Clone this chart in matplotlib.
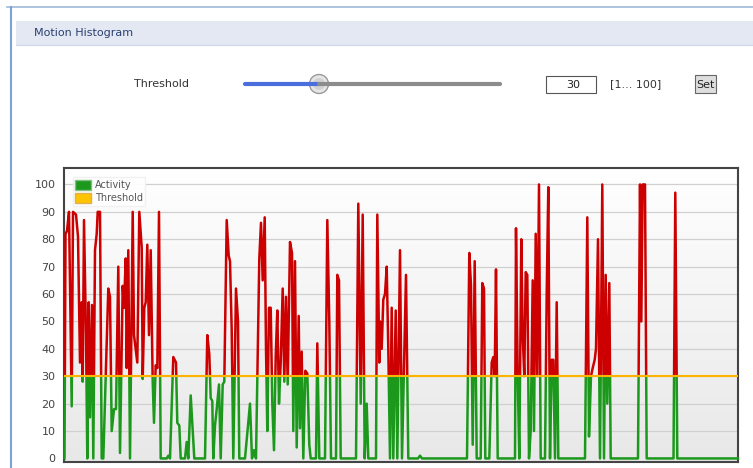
import numpy as np
import matplotlib
matplotlib.use("Agg")
import matplotlib.pyplot as plt
from matplotlib.patches import Rectangle, Circle, Patch

W, H = 753, 468

# motion activity samples (frame number, activity level)
frames = [
    0.5, 1.5, 3, 5, 7.7, 9, 12, 14, 16, 17.7, 18.7, 20, 22, 23.3, 24.7, 26, 28, 29.3,
    31, 32.7, 33.7, 36, 37.7, 39.3, 44.3, 46, 47.7, 50, 52, 54.3, 56, 58.7, 60, 61.7,
    62.7, 64.3, 66, 68.7, 70, 71.7, 73.3, 75.3, 77.7, 78.7, 80.3, 81.7, 83.3, 85, 86.7,
    88.7, 90, 91.7, 93.3, 95, 96.7, 102.7, 104.3, 106, 109.3, 112, 113.3, 115.3, 116.7,
    121, 122.7, 124.3, 126.7, 128.7, 130.3, 141, 143.3, 145.3, 146.7, 148.3, 149.3, 151,
    152.7, 155, 156.7, 158.7, 160.3, 162.7, 164.7, 166, 167.7, 169.3, 172, 174, 175.3,
    181, 186, 188, 190, 192, 195.3, 197, 198.7, 200.7, 202, 203.3, 205, 206.7, 208.3,
    210, 211.7, 213.3, 215, 216.7, 218.7, 220.3, 222, 223.7, 226, 228, 229.3, 231,
    232.7, 234.7, 236, 237.7, 239.3, 241.3, 243.3, 245.3, 246.7, 252, 253.3, 255.3, 261,
    263.3, 265.3, 267, 272, 273.3, 275, 276.7, 292, 294.3, 296.7, 298.7, 300.7, 302.7,
    304.3, 312, 313.3, 315.3, 316, 317.7, 319.3, 321, 322.7, 324.3, 326, 327.7, 329.3,
    331.7, 333.3, 336, 338, 342, 344.3, 354, 356, 358, 403, 405.3, 407, 408.7, 410.7,
    412.7, 416.7, 418.3, 420, 421.3, 425.3, 427.7, 429.3, 430.7, 432, 433.7, 451, 452,
    453.7, 455.3, 457.3, 458.7, 460.3, 461.7, 463.3, 465, 466.7, 468.7, 470, 471.7,
    473.3, 475, 476.7, 481, 482.7, 484.3, 486, 487.7, 489.3, 491, 492.7, 494.3, 521,
    523.3, 525, 527, 528.7, 530.7, 532, 534, 536, 538.3, 540, 541.7, 543.3, 545.3, 546.7,
    574, 576, 577.3, 578.7, 581, 582.7, 609.5, 611.3, 613.3, 674,
]
activity = [
    0, 82, 83, 90, 19, 90, 89, 81, 35, 57, 28, 87, 45, 0, 57, 15, 56, 0,
    76, 82, 90, 90, 0, 0, 62, 59, 10, 18, 18, 70, 2, 63, 55, 73,
    33, 76, 0, 90, 45, 40, 35, 90, 77, 29, 55, 57, 78, 45, 76,
    28, 13, 34, 33, 90, 0, 0, 1, 0, 37, 35, 13, 12, 0,
    0, 6, 0, 23, 10, 0, 0, 45, 38, 22, 21, 0, 12,
    18, 27, 0, 27, 28, 87, 74, 72, 47, 0, 62, 50, 0,
    0, 20, 0, 3, 0, 73, 86, 65, 88, 40, 10, 55, 55, 20,
    3, 37, 54, 20, 35, 62, 28, 59, 27, 79, 75, 10, 72,
    4, 52, 11, 39, 0, 32, 31, 5, 0, 0, 42, 0, 0,
    87, 50, 0, 0, 67, 65, 0, 0, 93, 20, 89, 0, 20,
    0, 0, 89, 35, 50, 40, 58, 60, 70, 40, 0, 55, 0,
    54, 0, 76, 0, 67, 0, 0, 1, 0, 0, 75, 63, 5, 72,
    0, 0, 64, 62, 0, 0, 35, 37, 30, 69, 0, 0, 84,
    30, 0, 80, 45, 30, 68, 67, 0, 10, 65, 10, 82,
    30, 100, 0, 0, 60, 99, 0, 36, 36, 0, 57, 0, 0,
    88, 8, 30, 33, 36, 40, 80, 0, 100, 0, 67, 20, 64, 0,
    0, 100, 50, 100, 100, 0, 0, 97, 0, 0,
]
threshold = 30
y_ticks = [0, 10, 20, 30, 40, 50, 60, 70, 80, 90, 100]

fig = plt.figure(figsize=(W / 100, H / 100), dpi=100)
fig.patch.set_facecolor("white")

# page widgets drawn in pixel coordinates
ui = fig.add_axes([0, 0, 1, 1])
ui.set_xlim(0, W)
ui.set_ylim(H, 0)
ui.axis("off")

ui.plot([7, W], [7, 7], color="#9fb9d9", lw=1.2)
ui.plot([11, 11], [7, H], color="#7aa3d6", lw=1.5)
ui.add_patch(Rectangle((16, 21), W - 16, 24, facecolor="#e3e8f3", edgecolor="none"))
ui.plot([16, W], [45, 45], color="#cfd6e4", lw=0.8)
ui.text(34, 33, "Motion Histogram", fontsize=8, color="#2b3f70", va="center")

ui.text(134, 84, "Threshold", fontsize=8, color="#333333", va="center")
ui.plot([245, 319], [84, 84], color="#4a6fdc", lw=3, solid_capstyle="round")
ui.plot([319, 500], [84, 84], color="#8c8c8c", lw=3, solid_capstyle="round")
ui.add_patch(Circle((319, 84), 9.5, facecolor="#e6e6e6", edgecolor="#9a9a9a", lw=1))
ui.add_patch(Circle((319, 84), 6, facecolor="#d2d2d2", edgecolor="none"))

ui.add_patch(Rectangle((546, 76), 50, 17, facecolor="white", edgecolor="#555555", lw=0.8))
ui.text(580, 84.5, str(threshold), fontsize=8, color="#222222", ha="right", va="center")
ui.text(610, 84.5, "[1... 100]", fontsize=8, color="#333333", va="center")
ui.add_patch(Rectangle((695, 75), 21, 18, facecolor="#dedede", edgecolor="#666666", lw=0.8))
ui.text(705.5, 84.5, "Set", fontsize=8, color="#222222", ha="center", va="center")

# histogram chart
ax = fig.add_axes([64 / W, 1 - 462 / H, (738 - 64) / W, (462 - 168) / H])
ax.set_xlim(0, 674)
ax.set_ylim(-1.3, 106)

grad = np.linspace(0, 1, 256).reshape(-1, 1)
ax.imshow(grad, extent=[0, 1, 0, 1], transform=ax.transAxes, aspect="auto",
          cmap=matplotlib.colors.LinearSegmentedColormap.from_list("bg", ["#e8e8e8", "#ffffff"]),
          origin="lower", zorder=0)

for t in y_ticks[1:]:
    ax.axhline(t, color="#d0d0d0", lw=0.9, zorder=1)

above = Rectangle((-10, threshold), 700, 200, transform=ax.transData)
below = Rectangle((-10, -50), 700, threshold + 50, transform=ax.transData)
red_line, = ax.plot(frames, activity, color="#cc0000", lw=1.8, zorder=3)
red_line.set_clip_path(above)
green_line, = ax.plot(frames, activity, color="#1c991c", lw=1.8, zorder=3)
green_line.set_clip_path(below)
ax.axhline(threshold, color="#ffb400", lw=1.5, zorder=4)

ax.set_yticks(y_ticks)
ax.set_yticklabels([str(t) for t in y_ticks], fontsize=8, color="#444444")
ax.tick_params(axis="y", length=0, pad=6)
ax.set_xticks([])
for s in ax.spines.values():
    s.set_color("#444444")
    s.set_linewidth(1.5)

handles = [Patch(facecolor="#1c991c", edgecolor="#7fbf7f", label="Activity"),
           Patch(facecolor="#ffc400", edgecolor="#e0b050", label="Threshold")]
leg = ax.legend(handles=handles, loc="upper left", bbox_to_anchor=(0.006, 0.985),
                fontsize=7, handlelength=1.6, handleheight=1.3, handletextpad=0.4,
                labelspacing=0.25, borderpad=0.25, frameon=True, fancybox=False,
                labelcolor="#555555")
leg.get_frame().set_facecolor("white")
leg.get_frame().set_edgecolor("#f0f0f0")
leg.get_frame().set_alpha(0.9)
leg.set_zorder(5)

fig.savefig("out.png", dpi=100)
